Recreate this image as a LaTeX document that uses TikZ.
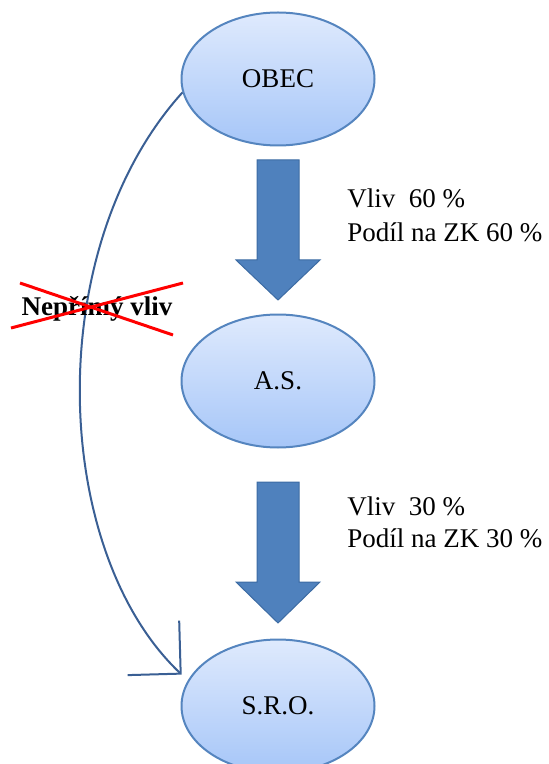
\documentclass[tikz,border=0pt]{standalone}
\usepackage{fontspec}
\setmainfont{Liberation Serif}
\usepackage{tikz}
\usetikzlibrary{arrows.meta,shapes.geometric}

\definecolor{ellborder}{HTML}{5585BF}
\definecolor{elltop}{HTML}{DFEAFD}
\definecolor{ellbottom}{HTML}{A6C6F8}
\definecolor{arrowfill}{HTML}{4F81BD}
\definecolor{arrowline}{HTML}{3C6BA3}
\definecolor{curveblue}{HTML}{3A5F94}

\tikzset{
    firma/.style={ellipse,draw=ellborder,line width=1pt,top color=elltop,bottom color=ellbottom,
                  minimum width=96.5pt,minimum height=66.5pt,inner sep=0pt,font=\fontsize{13.5}{16}\selectfont},
    blockarrow/.style={fill=arrowfill,draw=arrowline,line width=0.5pt},
    popis/.style={anchor=base west,inner sep=0pt,font=\fontsize{13.5}{16}\selectfont}
}

\begin{document}
\begin{tikzpicture}[x=0.5pt,y=-0.5pt]
        \useasboundingbox (0,0) rectangle (549,764);

        \node[firma] (obec) at (278,79) {OBEC};
        \node[firma] (as) at (278,381) {A.S.};
        \node[firma] (sro) at (278,706) {S.R.O.};

        \draw[blockarrow] (257,160) -- (299,160) -- (299,260) -- (320,260) -- (278,300) -- (236,260) -- (257,260) -- cycle;
        \draw[blockarrow] (257,482) -- (299,482) -- (299,582) -- (320,582) -- (278,623) -- (236,582) -- (257,582) -- cycle;

        \node[popis] (vliv1) at (347,208) {Vliv\ \ 60 \%};
        \node[popis] (podil1) at (347,242) {Podíl na ZK 60 \%};
        \node[popis] (vliv2) at (347,515) {Vliv\ \ 30 \%};
        \node[popis] (podil2) at (347,547) {Podíl na ZK 30 \%};

        \draw[curveblue,line width=1pt,-{Straight Barb[length=18.75pt,width=37.5pt]}]
            (obec.188) .. controls (40,250) and (52,552) .. ([xshift=-5pt]sro.160);

        \node[anchor=base,inner sep=0pt,font=\fontsize{13.5}{16}\selectfont\bfseries] (neprimy) at (97,315) {Nepřímý vliv};
        \draw[red,line width=1.5pt] (20,283) -- (173,335);
        \draw[red,line width=1.5pt] (11,328) -- (183,283);
    \end{tikzpicture}
\end{document}
